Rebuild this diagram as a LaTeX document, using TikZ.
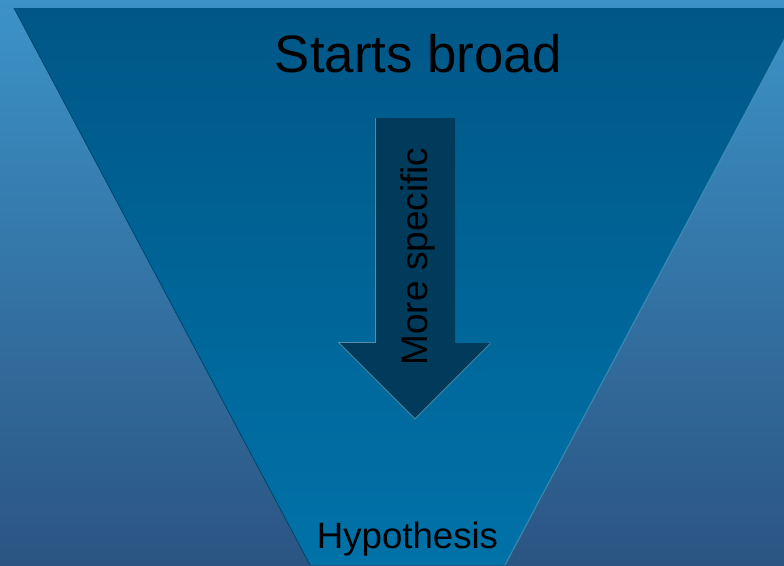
\documentclass[tikz,border=0pt]{standalone}
\usepackage{fontspec}
\setmainfont{Liberation Sans}
\definecolor{bgtop}{HTML}{3C93C8}
\definecolor{bgbottom}{HTML}{2B5482}
\definecolor{funneltop}{HTML}{005787}
\definecolor{funnelbottom}{HTML}{0072A8}
\definecolor{arrowfill}{HTML}{003B5C}
\tikzset{
    label text/.style={anchor=base, text=black, inner sep=0pt},
}
\begin{document}
\begin{tikzpicture}[x=1pt,y=-1pt]
    \useasboundingbox (0,0) rectangle (784,565);
    % background
    \shade[top color=bgtop, bottom color=bgbottom] (0,0) rectangle (784,565);
    % funnel
    \shade[top color=funneltop, bottom color=funnelbottom] (14,8) -- (801,8) -- (505,565) -- (310,565) -- cycle;
    \draw[color=funnelbottom!70!white, line width=1.2pt, opacity=0.6] (801,8) -- (505,565);
    \draw[color=funneltop!80!black, line width=0.8pt] (14,8) -- (310,565);
    % arrow
    \draw[gray!60, line width=2pt, opacity=0.5] (376,118) -- (376,343) -- (340,343) -- (415,418) -- (490,343);
    \fill[arrowfill] (376,118) -- (455,118) -- (455,343) -- (490,343) -- (415,418) -- (340,343) -- (376,343) -- cycle;
    % texts
    \node[label text] (broad) at (418.5,72) {\fontsize{52.7}{60}\selectfont Starts broad};
    \node[label text, rotate=90] (specific) at (427,256.5) {\fontsize{37}{44}\selectfont More specific};
    \node[label text] (hypothesis) at (407.5,548) {\fontsize{36.6}{44}\selectfont Hypothesis};
\end{tikzpicture}
\end{document}
